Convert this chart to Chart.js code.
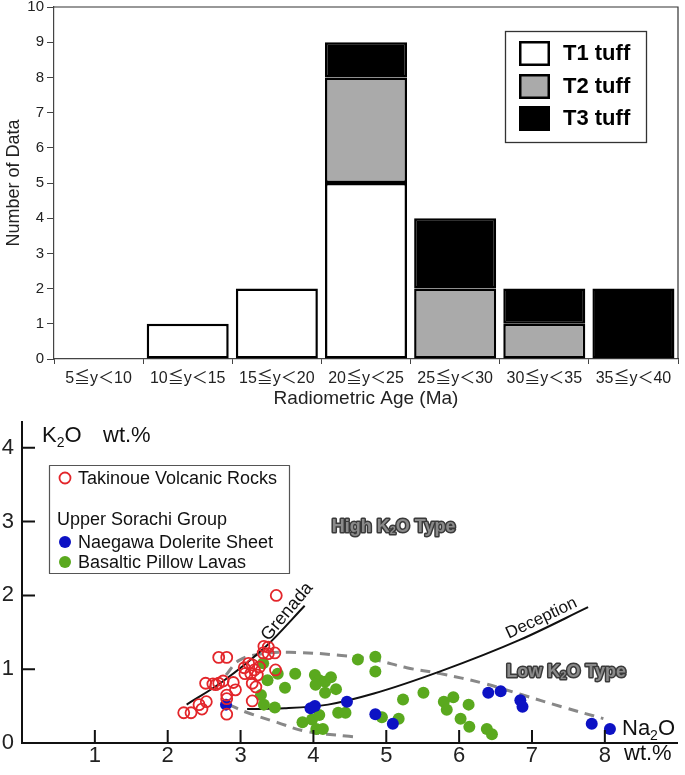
<!DOCTYPE html>
<html>
<head>
<meta charset="utf-8">
<script src="https://cdn.jsdelivr.net/npm/chart.js@4.4.1/dist/chart.umd.min.js"></script>
<style>
  html, body { margin:0; padding:0; background:#fff; }
  #wrap { position:relative; width:685px; height:775px; }
  #histBox { position:absolute; left:0; top:0; width:685px; height:410px; }
  #scatBox { position:absolute; left:0; top:410px; width:685px; height:365px; }
</style>
</head>
<body>
<div id="wrap">
  <div id="histBox"><canvas id="chartAge"></canvas></div>
  <div id="scatBox"><canvas id="chartK2O"></canvas></div>
</div>
<script>
// ---- histogram data ----
const ageBins = ['5≦y＜10','10≦y＜15','15≦y＜20','20≦y＜25','25≦y＜30','30≦y＜35','35≦y＜40'];
const t1Counts = [0, 1, 2, 5, 0, 0, 0];
const t2Counts = [0, 0, 0, 3, 2, 1, 0];
const t3Counts = [0, 0, 0, 1, 2, 1, 2];

// ---- K2O vs Na2O data ----
const takinoueNa2O = [3.49,2.70,2.81,3.32,3.38,3.31,3.38,3.47,2.52,2.62,2.70,2.76,2.90,2.93,2.81,2.81,2.43,2.53,2.47,2.22,2.32,2.81,3.16,3.11,3.16,3.26,3.19,3.06,3.14,3.23,3.16,3.21,3.48,2.66,3.05];
const takinoueK2O  = [2.00,1.16,1.16,1.31,1.30,1.22,1.21,1.22,0.81,0.80,0.81,0.84,0.82,0.72,0.65,0.60,0.52,0.56,0.46,0.41,0.41,0.39,0.57,1.08,1.06,1.03,0.99,0.94,0.94,0.92,0.81,0.76,0.99,0.79,1.02];
const naegawaNa2O = [2.80,3.96,4.02,4.46,4.85,5.09,6.40,6.57,6.84,6.87,7.82,8.07];
const naegawaK2O  = [0.52,0.47,0.50,0.56,0.39,0.26,0.68,0.70,0.58,0.49,0.26,0.19];
const pillowNa2O = [3.31,3.37,3.28,3.32,3.47,3.51,3.75,3.61,4.02,4.08,4.16,4.24,4.03,4.16,4.31,3.85,3.98,4.08,4.04,4.13,4.34,4.44,4.61,4.85,4.85,4.94,5.17,5.23,5.51,5.79,5.92,5.83,6.13,6.02,6.14,6.38,6.45];
const pillowK2O  = [1.08,0.85,0.65,0.52,0.48,0.94,0.94,0.75,0.92,0.85,0.83,0.89,0.79,0.68,0.73,0.28,0.32,0.38,0.19,0.19,0.41,0.41,1.13,1.17,0.97,0.35,0.33,0.59,0.68,0.56,0.62,0.45,0.52,0.33,0.22,0.19,0.12];
const grenadaNa2O = [2.26,2.75,3.35,3.88];
const grenadaK2O  = [0.52,0.83,1.31,1.86];
const deceptionNa2O = [3.09,3.60,4.20,4.83,5.74,6.84,7.77];
const deceptionK2O  = [0.46,0.47,0.52,0.67,0.97,1.40,1.84];
const upperFieldNa2O = [2.80,2.98,3.30,3.67,4.35,4.83,5.28,5.74,6.33,6.84,7.41,7.98];
const upperFieldK2O  = [0.92,1.12,1.21,1.23,1.19,1.13,1.02,0.94,0.81,0.66,0.49,0.33];
const lowerFieldNa2O = [2.84,3.07,3.50,3.89,4.49,4.60];
const lowerFieldK2O  = [0.52,0.42,0.28,0.16,0.09,0.08];

const FONT = 'Arial, "Liberation Sans", "Noto Sans CJK JP", sans-serif';
Chart.defaults.font.family = FONT;
Chart.defaults.color = '#222';

function pts(xs, ys){
    return xs.map((x, i) => ({x: x, y: ys[i]}));
}

// ---------- top chart ----------
const histDecor = {
    id: 'histDecor',
    afterDraw(chart){
        const ctx = chart.ctx;
        const a = chart.chartArea;
        ctx.save();
        ctx.strokeStyle = '#333';
        ctx.lineWidth = 1.2;
        ctx.beginPath();
        ctx.moveTo(a.left, a.top);
        ctx.lineTo(a.right, a.top);
        ctx.lineTo(a.right, a.bottom);
        ctx.stroke();

        // legend box
        ctx.lineWidth = 1.3;
        ctx.strokeStyle = '#333';
        ctx.strokeRect(505.5, 31.5, 141, 111);
        const rows = [41, 74, 106];
        chart.data.datasets.forEach((ds, i) => {
            ctx.fillStyle = ds.backgroundColor;
            ctx.fillRect(519, rows[i], 31, 25);
            ctx.lineWidth = 2.5;
            ctx.strokeStyle = '#000';
            ctx.strokeRect(520.25, rows[i] + 1.25, 28.5, 22.5);
            ctx.fillStyle = '#000';
            ctx.font = 'bold 22px ' + FONT;
            ctx.textBaseline = 'middle';
            ctx.textAlign = 'left';
            ctx.fillText(ds.label, 563, rows[i] + 13);
        });
        ctx.restore();
    }
};

new Chart(document.getElementById('chartAge').getContext('2d'), {
    type: 'bar',
    data: {
        labels: ageBins,
        datasets: [
            { label: 'T1 tuff', data: t1Counts.map(v => v || null), backgroundColor: '#ffffff' },
            { label: 'T2 tuff', data: t2Counts.map(v => v || null), backgroundColor: '#aaaaaa' },
            { label: 'T3 tuff', data: t3Counts.map(v => v || null), backgroundColor: '#000000' }
        ]
    },
    options: {
        responsive: true,
        maintainAspectRatio: false,
        animation: false,
        devicePixelRatio: 1,
        layout: { padding: { top: 7, right: 7, left: 0, bottom: 0 } },
        datasets: {
            bar: {
                borderColor: '#000',
                borderWidth: 2.5,
                borderSkipped: false,
                barPercentage: 0.92,
                categoryPercentage: 1.0
            }
        },
        plugins: {
            legend: { display: false },
            tooltip: { enabled: false }
        },
        scales: {
            x: {
                stacked: true,
                offset: true,
                grid: { offset: true, drawOnChartArea: false, tickLength: 5, color: '#444' },
                border: { color: '#444', width: 1.2 },
                ticks: { font: { size: 16 }, color: '#222', padding: 5, maxRotation: 0 },
                title: { display: true, text: 'Radiometric Age (Ma)', font: { size: 19 }, color: '#222', padding: { top: 0, bottom: 0 } },
                afterFit(scale){ scale.height = 51; }
            },
            y: {
                stacked: true,
                min: 0,
                max: 10,
                ticks: { stepSize: 1, font: { size: 15 }, color: '#222', padding: 3 },
                grid: { drawOnChartArea: false, tickLength: 7, color: '#444' },
                border: { color: '#444', width: 1.2 },
                title: { display: true, text: 'Number of Data', font: { size: 18 }, color: '#222', padding: { top: 3, bottom: 0 } },
                afterFit(scale){ scale.width = 54; scale.paddingTop = 0; scale.paddingBottom = 0; }
            }
        }
    },
    plugins: [histDecor]
});

// ---------- bottom chart ----------
function drawRich(ctx, parts, x, y, size, align, bold, outline){
    const w = bold ? 'bold ' : '';
    let total = 0;
    parts.forEach(p => {
        ctx.font = w + (p.sub ? Math.round(size * 0.62) : size) + 'px ' + FONT;
        p.w = ctx.measureText(p.t).width;
        total += p.w;
    });
    let cx = align === 'center' ? x - total / 2 : x;
    parts.forEach(p => {
        ctx.font = w + (p.sub ? Math.round(size * 0.62) : size) + 'px ' + FONT;
        const py = p.sub ? y + size * 0.22 : y;
        if (outline) {
            ctx.lineWidth = 3;
            ctx.strokeStyle = '#3a3a3a';
            ctx.lineJoin = 'round';
            ctx.strokeText(p.t, cx, py);
        }
        ctx.fillText(p.t, cx, py);
        cx += p.w;
    });
}

const k2oDecor = {
    id: 'k2oDecor',
    afterDraw(chart){
        const ctx = chart.ctx;
        const xs = chart.scales.x, ys = chart.scales.y;
        const a = chart.chartArea;
        ctx.save();
        // inner ticks
        ctx.strokeStyle = '#111';
        ctx.lineWidth = 2;
        ctx.beginPath();
        [1, 2, 3, 4].forEach(v => {
            const py = ys.getPixelForValue(v);
            ctx.moveTo(a.left, py); ctx.lineTo(a.left + 13, py);
        });
        [1, 2, 3, 4, 5, 6, 7, 8].forEach(v => {
            const px = xs.getPixelForValue(v);
            ctx.moveTo(px, a.bottom); ctx.lineTo(px, a.bottom - 13);
        });
        ctx.stroke();

        // axis labels
        ctx.fillStyle = '#111';
        ctx.textBaseline = 'alphabetic';
        ctx.textAlign = 'left';
        drawRich(ctx, [{t:'K'}, {t:'2', sub:true}, {t:'O'}], 42, 32, 22, 'left');
        ctx.font = '22px ' + FONT;
        ctx.fillText('wt.%', 103, 32);
        drawRich(ctx, [{t:'Na'}, {t:'2', sub:true}, {t:'O'}], 622, 325, 22, 'left');
        ctx.font = '22px ' + FONT;
        ctx.fillText('wt.%', 624, 350);

        // trend labels
        ctx.fillStyle = '#111';
        ctx.font = '18px ' + FONT;
        ctx.textAlign = 'center';
        ctx.textBaseline = 'middle';
        ctx.save();
        ctx.translate(xs.getPixelForValue(3.64), ys.getPixelForValue(1.78));
        ctx.rotate(-50 * Math.PI / 180);
        ctx.fillText('Grenada', 0, 0);
        ctx.restore();
        ctx.save();
        ctx.translate(xs.getPixelForValue(7.13), ys.getPixelForValue(1.69));
        ctx.rotate(-25 * Math.PI / 180);
        ctx.font = '17px ' + FONT;
        ctx.fillText('Deception', 0, 0);
        ctx.restore();

        // type labels
        ctx.textAlign = 'left';
        ctx.textBaseline = 'middle';
        ctx.fillStyle = '#8a8a8a';
        drawRich(ctx, [{t:'High K'}, {t:'2', sub:true}, {t:'O Type'}], xs.getPixelForValue(5.10), ys.getPixelForValue(2.93), 18, 'center', true, true);
        ctx.fillStyle = '#8a8a8a';
        drawRich(ctx, [{t:'Low K'}, {t:'2', sub:true}, {t:'O Type'}], xs.getPixelForValue(7.47), ys.getPixelForValue(0.96), 18, 'center', true, true);

        // legend
        ctx.lineWidth = 1.2;
        ctx.strokeStyle = '#555';
        ctx.strokeRect(49.5, 55.5, 240, 108);
        const ds = chart.data.datasets;
        ctx.font = '18px ' + FONT;
        ctx.textAlign = 'left';
        ctx.textBaseline = 'middle';
        ctx.fillStyle = '#111';
        // Takinoue
        ctx.beginPath();
        ctx.arc(65, 68, 5.5, 0, Math.PI * 2);
        ctx.lineWidth = 1.8;
        ctx.strokeStyle = ds[0].borderColor;
        ctx.stroke();
        ctx.fillText(ds[0].label, 78, 69);
        ctx.fillText('Upper Sorachi Group', 57, 110);
        [[1, 132], [2, 152]].forEach(r => {
            ctx.beginPath();
            ctx.arc(65, r[1], 6, 0, Math.PI * 2);
            ctx.fillStyle = ds[r[0]].backgroundColor;
            ctx.fill();
            ctx.fillStyle = '#111';
            ctx.fillText(ds[r[0]].label, 78, r[1] + 1);
        });
        ctx.restore();
    }
};

new Chart(document.getElementById('chartK2O').getContext('2d'), {
    type: 'scatter',
    data: {
        datasets: [
            { label: 'Takinoue Volcanic Rocks', data: pts(takinoueNa2O, takinoueK2O),
              pointRadius: 5.5, pointBorderWidth: 1.8, borderColor: '#e3262b', backgroundColor: 'rgba(255,255,255,0)', order: 0 },
            { label: 'Naegawa Dolerite Sheet', data: pts(naegawaNa2O, naegawaK2O),
              pointRadius: 6, borderWidth: 0, pointBorderWidth: 0, borderColor: '#0d12c4', backgroundColor: '#0d12c4', order: 1 },
            { label: 'Basaltic Pillow Lavas', data: pts(pillowNa2O, pillowK2O),
              pointRadius: 6, borderWidth: 0, pointBorderWidth: 0, borderColor: '#5aa91e', backgroundColor: '#5aa91e', order: 2 },
            { label: 'Grenada', data: pts(grenadaNa2O, grenadaK2O), showLine: true, pointRadius: 0,
              borderColor: '#111', borderWidth: 2, cubicInterpolationMode: 'monotone', order: 3 },
            { label: 'Deception', data: pts(deceptionNa2O, deceptionK2O), showLine: true, pointRadius: 0,
              borderColor: '#111', borderWidth: 2, cubicInterpolationMode: 'monotone', order: 4 },
            { label: 'field upper', data: pts(upperFieldNa2O, upperFieldK2O), showLine: true, pointRadius: 0,
              borderColor: '#888', borderWidth: 3, borderDash: [10, 7], tension: 0.4, order: 5 },
            { label: 'field lower', data: pts(lowerFieldNa2O, lowerFieldK2O), showLine: true, pointRadius: 0,
              borderColor: '#888', borderWidth: 3, borderDash: [10, 7], tension: 0.4, order: 6 }
        ]
    },
    options: {
        responsive: true,
        maintainAspectRatio: false,
        animation: false,
        devicePixelRatio: 1,
        layout: { padding: { top: 12, right: 5, left: 0, bottom: 0 } },
        plugins: {
            legend: { display: false },
            tooltip: { enabled: false }
        },
        scales: {
            x: {
                type: 'linear',
                min: 0,
                max: 9,
                grid: { drawOnChartArea: false, drawTicks: false },
                border: { color: '#111', width: 2 },
                ticks: {
                    stepSize: 1, includeBounds: false, padding: 0,
                    font: { size: 22 }, color: '#222',
                    callback: v => (v >= 1 && v <= 8) ? v : ''
                },
                afterFit(scale){ scale.height = 32; scale.paddingLeft = 0; scale.paddingRight = 0; }
            },
            y: {
                type: 'linear',
                min: 0,
                max: 4.35,
                grid: { drawOnChartArea: false, drawTicks: false },
                border: { color: '#111', width: 2 },
                ticks: {
                    stepSize: 1, includeBounds: false, padding: 8,
                    font: { size: 22 }, color: '#222',
                    callback: v => Number.isInteger(v) ? v : ''
                },
                afterFit(scale){ scale.width = 22; scale.paddingTop = 0; scale.paddingBottom = 0; }
            }
        }
    },
    plugins: [k2oDecor]
});
</script>
</body>
</html>
